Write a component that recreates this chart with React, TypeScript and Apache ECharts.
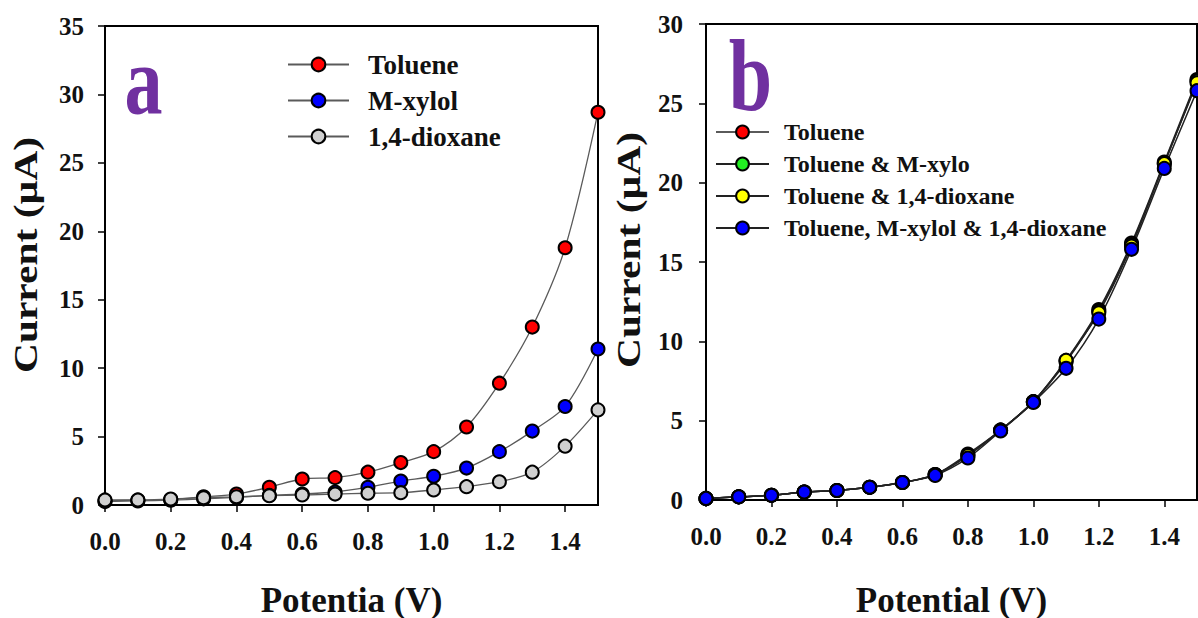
import React, { useEffect, useRef } from "react";
import * as echarts from "echarts";

// ---------- Panel a data ----------
const potentialA = [0, 0.1, 0.2, 0.3, 0.4, 0.5, 0.6, 0.7, 0.8, 0.9, 1.0, 1.1, 1.2, 1.3, 1.4, 1.5];
const tolueneA = [0.3, 0.35, 0.4, 0.6, 0.8, 1.3, 1.9, 2.0, 2.4, 3.1, 3.9, 5.7, 8.9, 13.0, 18.8, 28.7];
const mXylolA = [0.25, 0.3, 0.35, 0.45, 0.55, 0.7, 0.8, 0.95, 1.3, 1.75, 2.1, 2.7, 3.9, 5.4, 7.2, 11.4];
const dioxaneA = [0.37, 0.37, 0.44, 0.53, 0.6, 0.68, 0.73, 0.8, 0.86, 0.9, 1.1, 1.34, 1.7, 2.4, 4.3, 6.95];

// ---------- Panel b data ----------
const potentialB = [0, 0.1, 0.2, 0.3, 0.4, 0.5, 0.6, 0.7, 0.8, 0.9, 1.0, 1.1, 1.2, 1.3, 1.4, 1.5];
const tolueneB = [0.1, 0.2, 0.3, 0.5, 0.6, 0.8, 1.1, 1.6, 2.9, 4.4, 6.2, 8.8, 12.0, 16.2, 21.3, 26.5];
const tolueneMXyloB = [0.1, 0.2, 0.3, 0.5, 0.6, 0.8, 1.1, 1.6, 2.8, 4.4, 6.2, 8.7, 11.9, 16.1, 21.2, 26.4];
const tolueneDioxaneB = [0.1, 0.2, 0.3, 0.5, 0.6, 0.8, 1.1, 1.6, 2.8, 4.4, 6.2, 8.8, 11.8, 16.0, 21.2, 26.3];
const allThreeB = [0.1, 0.2, 0.3, 0.5, 0.6, 0.8, 1.1, 1.55, 2.65, 4.35, 6.15, 8.3, 11.4, 15.8, 20.9, 25.8];

// ---------- Texts ----------
const namesA = ["Toluene", "M-xylol", "1,4-dioxane"];
const namesB = ["Toluene", "Toluene & M-xylo", "Toluene & 1,4-dioxane", "Toluene, M-xylol & 1,4-dioxane"];
const xTitleA = "Potentia (V)";
const xTitleB = "Potential (V)";
const yTitle = "Current (µA)";

const serif = "'Liberation Serif', 'Times New Roman', serif";

const pairs = (xs: number[], ys: number[]) => xs.map((x, i) => [x, ys[i]]);

function lineSeries(
  name: string,
  data: number[][],
  idx: number,
  fill: string,
  lineColor: string,
  lineWidth: number,
  size: number
) {
  return {
    type: "line",
    name,
    xAxisIndex: idx,
    yAxisIndex: idx,
    data,
    smooth: 0.3,
    symbol: "circle",
    symbolSize: size,
    lineStyle: { color: lineColor, width: lineWidth },
    itemStyle: { color: fill, borderColor: "#000", borderWidth: 2 },
    emphasis: { disabled: true },
  };
}

const tickLabel = { fontFamily: serif, fontWeight: "bold", fontSize: 25, color: "#111" };

function xAxis(idx: number) {
  return {
    gridIndex: idx,
    type: "value",
    min: 0,
    max: 1.5,
    interval: 0.2,
    axisLine: { onZero: false, lineStyle: { color: "#000", width: 2 } },
    axisTick: { show: true, length: 7, lineStyle: { color: "#000", width: 1.5 } },
    splitLine: { show: false },
    axisLabel: {
      ...tickLabel,
      margin: 24,
      showMaxLabel: false,
      formatter: (v: number) => v.toFixed(1),
    },
  };
}

function yAxis(idx: number, max: number, margin: number) {
  return {
    gridIndex: idx,
    type: "value",
    min: 0,
    max,
    interval: 5,
    axisLine: { show: true, onZero: false, lineStyle: { color: "#000", width: 2 } },
    axisTick: { show: true, length: 7, lineStyle: { color: "#000", width: 1.5 } },
    splitLine: { show: false },
    axisLabel: { ...tickLabel, margin },
  };
}

function txt(text: string, x: number, y: number, fontSize: number, extra: any = {}, fill = "#111") {
  return {
    type: "text",
    x,
    y,
    ...extra,
    style: {
      text,
      font: `bold ${fontSize}px ${serif}`,
      fill,
      align: "center",
      verticalAlign: "middle",
      textAlign: "center",
      textVerticalAlign: "middle",
    },
  };
}

export default function App() {
  const ref = useRef<HTMLDivElement>(null);

  useEffect(() => {
    if (!ref.current) return;
    const chart = echarts.init(ref.current, null, { renderer: "svg" });
    const option = {
      animation: false,
      backgroundColor: "#fff",
      grid: [
        { left: 105, top: 26, width: 493, height: 479, show: true, borderColor: "#000", borderWidth: 2 },
        { left: 706, top: 24, width: 491, height: 476, show: true, borderColor: "#000", borderWidth: 2 },
      ],
      xAxis: [xAxis(0), xAxis(1)],
      yAxis: [yAxis(0, 35, 21), yAxis(1, 30, 23)],
      legend: [
        {
          data: namesA,
          orient: "vertical",
          left: 287,
          top: 51,
          padding: 0,
          itemWidth: 61,
          itemHeight: 17,
          itemGap: 9,
          selectedMode: false,
          textStyle: { fontFamily: serif, fontWeight: "bold", fontSize: 27, color: "#111", padding: [0, 0, 0, 14] },
        },
        {
          data: namesB,
          orient: "vertical",
          left: 715,
          top: 120,
          padding: 0,
          itemWidth: 53,
          itemHeight: 16,
          itemGap: 8,
          selectedMode: false,
          textStyle: { fontFamily: serif, fontWeight: "bold", fontSize: 24, color: "#111", padding: [0, 0, 0, 10] },
        },
      ],
      series: [
        lineSeries(namesA[0], pairs(potentialA, tolueneA), 0, "#ff0000", "#5a5a5a", 1.3, 13),
        lineSeries(namesA[1], pairs(potentialA, mXylolA), 0, "#0000ff", "#5a5a5a", 1.3, 13),
        lineSeries(namesA[2], pairs(potentialA, dioxaneA), 0, "#d0d0d0", "#5a5a5a", 1.3, 13),
        lineSeries(namesB[0], pairs(potentialB, tolueneB), 1, "#ff0000", "#222", 1.5, 13),
        lineSeries(namesB[1], pairs(potentialB, tolueneMXyloB), 1, "#22ee22", "#222", 1.5, 13),
        lineSeries(namesB[2], pairs(potentialB, tolueneDioxaneB), 1, "#ffff00", "#222", 1.5, 13),
        lineSeries(namesB[3], pairs(potentialB, allThreeB), 1, "#0000ff", "#222", 1.5, 13),
      ],
      graphic: [
        txt("a", 143.5, 80, 76, { scaleY: 1.28 }, "#7030A0"),
        txt("b", 750.5, 76, 78, { scaleY: 1.3 }, "#7030A0"),
        txt(yTitle, 25, 255, 34, { rotation: Math.PI / 2, scaleX: 1.22 }),
        txt(yTitle, 628, 250, 34, { rotation: Math.PI / 2, scaleX: 1.22 }),
        txt(xTitleA, 351.5, 600, 35),
        txt(xTitleB, 951.5, 600, 35),
      ],
    };
    chart.setOption(option as any);
    return () => chart.dispose();
  }, []);

  return (
    <div
      ref={ref}
      style={{ position: "absolute", left: 0, top: 0, width: 1198, height: 618, background: "#fff" }}
    />
  );
}
